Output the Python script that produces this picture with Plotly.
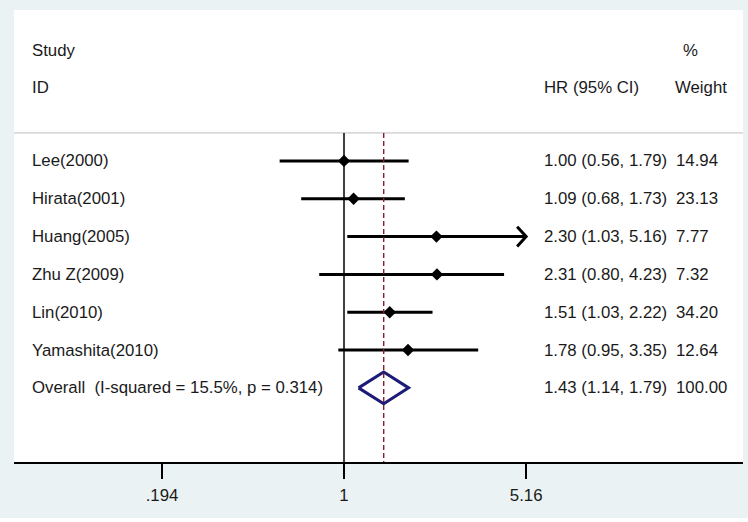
import math
import plotly.graph_objects as go

# study data
studies = ["Lee(2000)", "Hirata(2001)", "Huang(2005)", "Zhu Z(2009)",
           "Lin(2010)", "Yamashita(2010)"]
hr = [1.00, 1.09, 2.30, 2.31, 1.51, 1.78]
lo = [0.56, 0.68, 1.03, 0.80, 1.03, 0.95]
hi = [1.79, 1.73, 5.16, 4.23, 2.22, 3.35]
weights = ["14.94", "23.13", "7.77", "7.32", "34.20", "12.64"]

overall_label = "Overall\u00a0 (I-squared = 15.5%, p = 0.314)"
overall = [1.43, 1.14, 1.79]
overall_weight = "100.00"

tick_vals = [0.194, 1, 5.16]
tick_text = [".194", "1", "5.16"]
x_clip = 5.16  # CIs past this get an arrow

FONT = "Liberation Sans, Arial, sans-serif"
FS = 16.8
TXT = "#1a1a1a"

fig = go.Figure()

rows = list(range(len(studies)))

# confidence interval lines
for i in rows:
    fig.add_trace(go.Scatter(
        x=[lo[i], min(hi[i], x_clip)], y=[i, i], mode="lines",
        line=dict(color="black", width=3), hoverinfo="skip", showlegend=False))
    if hi[i] >= x_clip:
        back = x_clip / math.exp(9 / 111)
        fig.add_trace(go.Scatter(
            x=[back, x_clip, back], y=[i - 0.26, i, i + 0.26], mode="lines",
            line=dict(color="black", width=3), hoverinfo="skip", showlegend=False))

# point estimates
fig.add_trace(go.Scatter(
    x=hr, y=rows, mode="markers",
    marker=dict(symbol="diamond", size=9.5, color="black"),
    hoverinfo="skip", showlegend=False))

# overall diamond
oy = len(studies)
fig.add_trace(go.Scatter(
    x=[overall[1], overall[0], overall[2], overall[0], overall[1]],
    y=[oy, oy - 0.42, oy, oy + 0.42, oy], mode="lines",
    line=dict(color="#1c1c78", width=3), hoverinfo="skip", showlegend=False))

shapes = [
    # header separator
    dict(type="line", xref="paper", yref="y", x0=0, x1=1, y0=-0.74, y1=-0.74,
         line=dict(color="#bdbdbd", width=1)),
    # null line
    dict(type="line", xref="x", yref="y", x0=1, x1=1, y0=-0.74, y1=7.96,
         line=dict(color="black", width=1.5)),
    # overall effect line
    dict(type="line", xref="x", yref="y", x0=overall[0], x1=overall[0],
         y0=-0.74, y1=7.96, line=dict(color="#8b1a2a", width=1.4, dash="5px,3px")),
    # white strips at image edge
    dict(type="rect", xref="paper", yref="paper", x0=1.00686, x1=1.02, y0=-0.2,
         y1=1.1, fillcolor="white", line_width=0, layer="above"),
    dict(type="rect", xref="paper", yref="paper", x0=-0.05, x1=1.05, y0=-0.14,
         y1=-0.1239, fillcolor="white", line_width=0, layer="above"),
]

ann = []


def txt(x, y, s):
    ann.append(dict(x=x, y=y, xref="paper", yref="y", text=s, showarrow=False,
                    xanchor="left", yanchor="middle",
                    font=dict(family=FONT, size=FS, color=TXT)))


X_STUDY = (30 - 14) / 729
X_HR = (542 - 14) / 729
X_W = (674 - 14) / 729

txt(X_STUDY, -2.93, "Study")
txt(X_STUDY, -1.93, "ID")
txt(X_HR, -1.93, "HR (95% CI)")
txt((681 - 14) / 729, -2.93, "%")
txt((673 - 14) / 729, -1.93, "Weight")

for i in rows:
    txt(X_STUDY, i, studies[i])
    txt(X_HR, i, f"{hr[i]:.2f} ({lo[i]:.2f}, {hi[i]:.2f})")
    txt(X_W, i, weights[i])

txt(X_STUDY, oy, overall_label)
txt(X_HR, oy, f"{overall[0]:.2f} ({overall[1]:.2f}, {overall[2]:.2f})")
txt(X_W, oy, overall_weight)

lo_px, hi_px, one_px = 14, 743, 344
per_dec = 111 * math.log(10)

fig.update_layout(
    width=748, height=522,
    margin=dict(l=14, r=5, t=10, b=60),
    paper_bgcolor="#eaf2f3", plot_bgcolor="white",
    shapes=shapes, annotations=ann,
    xaxis=dict(type="log",
               range=[(lo_px - one_px) / per_dec, (hi_px - one_px) / per_dec],
               tickvals=tick_vals, ticktext=tick_text, ticks="outside",
               ticklen=15, tickwidth=1.5, tickcolor="black",
               showline=True, linecolor="black", linewidth=1.5,
               showgrid=False, zeroline=False, ticklabelstandoff=2,
               tickfont=dict(family=FONT, size=FS, color=TXT)),
    yaxis=dict(range=[7.96, -3.99], visible=False, showgrid=False,
               zeroline=False),
)

fig.write_html("out.html", config={"displayModeBar": False},
               post_script="document.body.style.margin='0';")
